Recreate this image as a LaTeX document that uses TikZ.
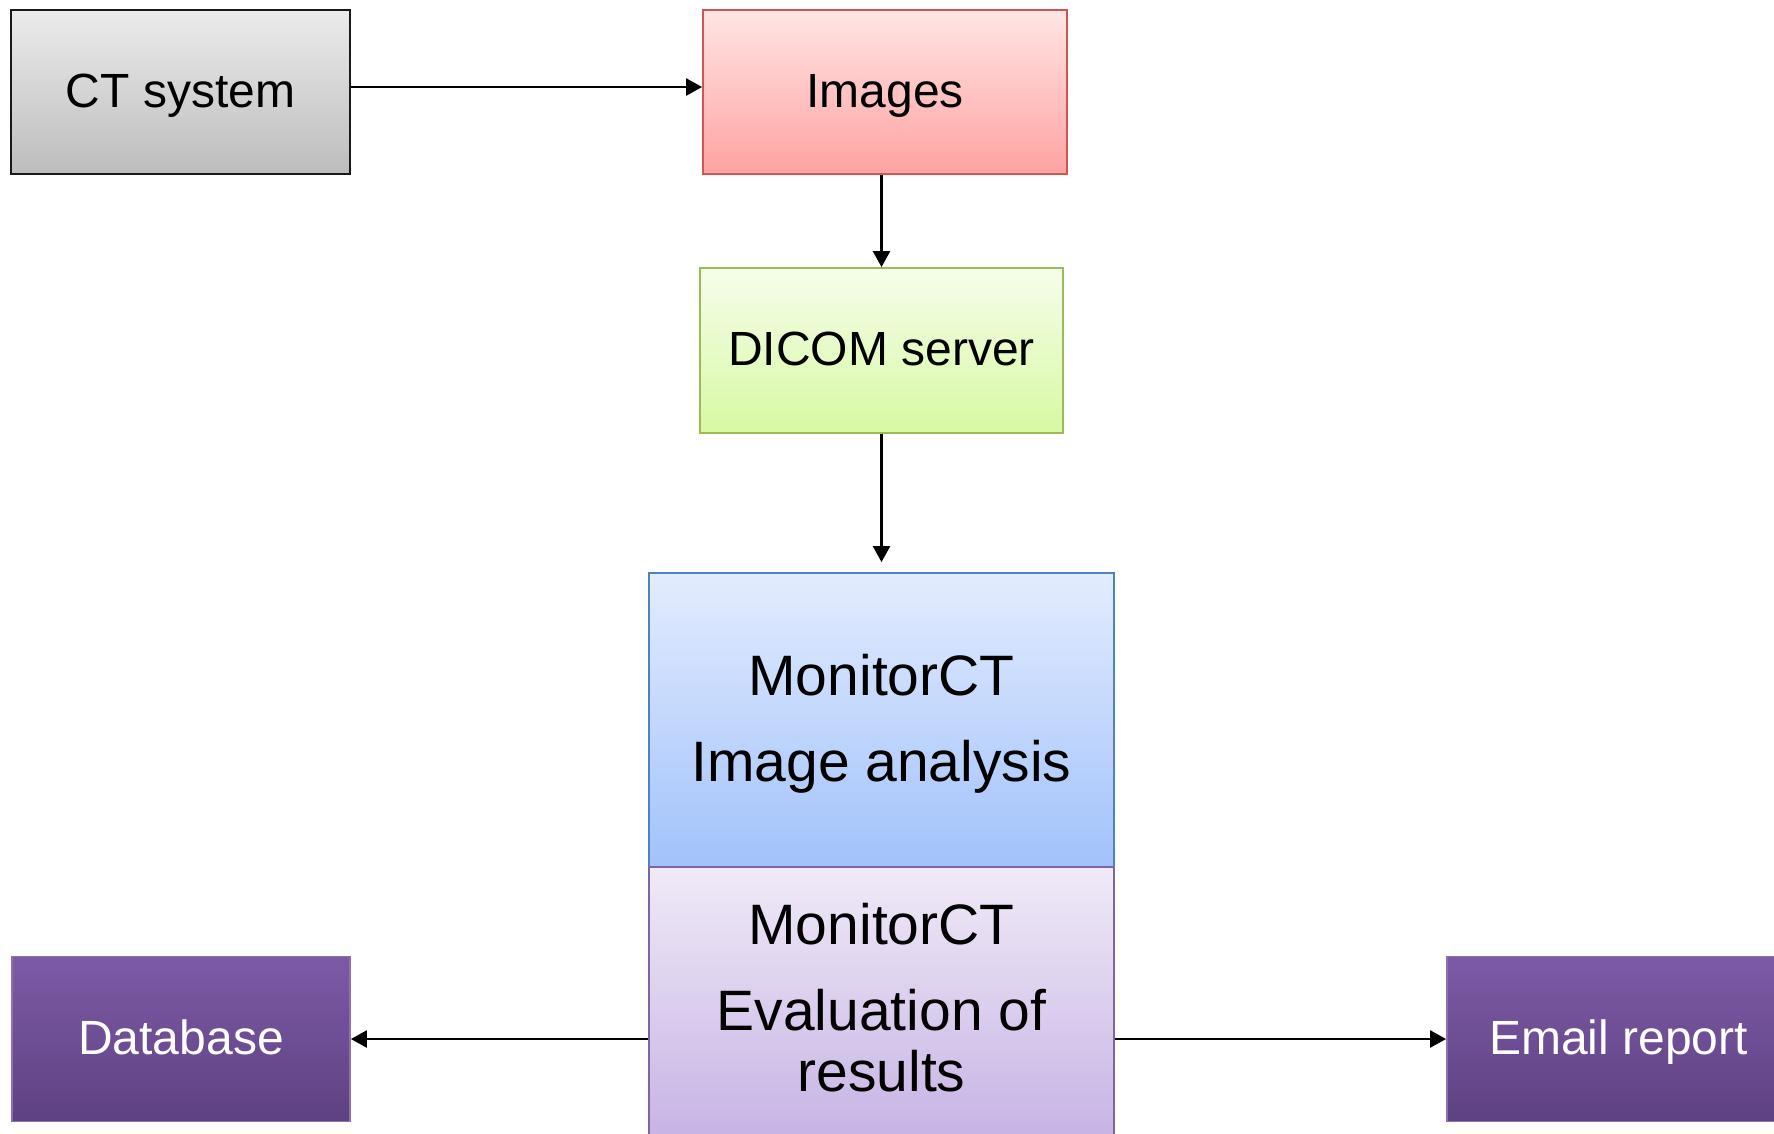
\documentclass[tikz,border=0pt]{standalone}
\usepackage{fontspec}
\setmainfont{Liberation Sans}
\usetikzlibrary{arrows.meta}
\definecolor{ctTop}{HTML}{EBEBEB}
\definecolor{ctBot}{HTML}{BDBDBD}
\definecolor{imgTop}{HTML}{FFE5E5}
\definecolor{imgBot}{HTML}{FFA2A2}
\definecolor{imgLine}{HTML}{D05454}
\definecolor{dcTop}{HTML}{F5FDEB}
\definecolor{dcBot}{HTML}{D8F9A2}
\definecolor{dcLine}{HTML}{9BBB59}
\definecolor{monTop}{HTML}{E3ECFE}
\definecolor{monBot}{HTML}{A1C2FB}
\definecolor{monLine}{HTML}{4F81BD}
\definecolor{evTop}{HTML}{F0EAF7}
\definecolor{evBot}{HTML}{C5B1E4}
\definecolor{evLine}{HTML}{8064A2}
\definecolor{dbTop}{HTML}{7D5AA6}
\definecolor{dbBot}{HTML}{5E4182}
\definecolor{dbLine}{HTML}{8C70B0}
\tikzset{
  boxbase/.style={rectangle, inner sep=0pt, line width=1.8pt,
    font=\fontsize{48}{58}\selectfont, text height=30pt, text depth=0pt},
  ctbox/.style={boxbase, draw=black!90, line width=2pt, top color=ctTop, bottom color=ctBot},
  imgbox/.style={boxbase, draw=imgLine, top color=imgTop, bottom color=imgBot},
  dcbox/.style={boxbase, draw=dcLine, top color=dcTop, bottom color=dcBot},
  monbox/.style={rectangle, inner sep=0pt, line width=1.8pt, draw=monLine, top color=monTop, bottom color=monBot},
  evbox/.style={rectangle, inner sep=0pt, line width=1.8pt, draw=evLine, top color=evTop, bottom color=evBot},
  dbbox/.style={boxbase, draw=dbLine, top color=dbTop, bottom color=dbBot, text=white},
  bigtxt/.style={inner sep=0pt, font=\fontsize{57}{68}\selectfont, anchor=base},
  arr/.style={line width=2.4pt, -{Triangle[length=16pt,width=17pt]}}
}
\begin{document}
\begin{tikzpicture}[x=1pt,y=-1pt]
\useasboundingbox (0,0) rectangle (1774,1133);
\clip (0,0) rectangle (1774,1133);
\node[ctbox, minimum width=339pt, minimum height=164pt] (ct) at (180.5,92) {CT system};
\node[imgbox, minimum width=364pt, minimum height=164pt] (img) at (885,92) {Images};
\node[dcbox, minimum width=363pt, minimum height=165pt] (dicom) at (881.5,350.5) {DICOM server};
\node[monbox, minimum width=465pt, minimum height=294pt] (mon) at (881.5,720) {};
\node[evbox, minimum width=465pt, minimum height=283pt] (eval) at (881.5,1008.5) {};
\node[dbbox, minimum width=338pt, minimum height=165pt] (db) at (181,1039) {Database};
\node[dbbox, minimum width=343pt, minimum height=165pt] (email) at (1618.5,1039) {Email report};
\node[bigtxt] (m1) at (881.5,695) {MonitorCT};
\node[bigtxt] (m2) at (881.5,781) {Image analysis};
\node[bigtxt] (e1) at (881.5,944) {MonitorCT};
\node[bigtxt] (e2) at (881.5,1030) {Evaluation of};
\node[bigtxt] (e3) at (881.5,1091) {results};
\coordinate (yct) at (0,87);
\draw[arr] (ct.east |- yct) -- (img.west |- yct);
\draw[arr] (img.south -| dicom.north) -- (dicom.north);
\draw[arr, shorten >=10pt] (dicom.south) -- (mon.north);
\draw[arr] (db.east -| eval.west) -- (db.east);
\draw[arr] (email.west -| eval.east) -- (email.west);
\end{tikzpicture}
\end{document}
